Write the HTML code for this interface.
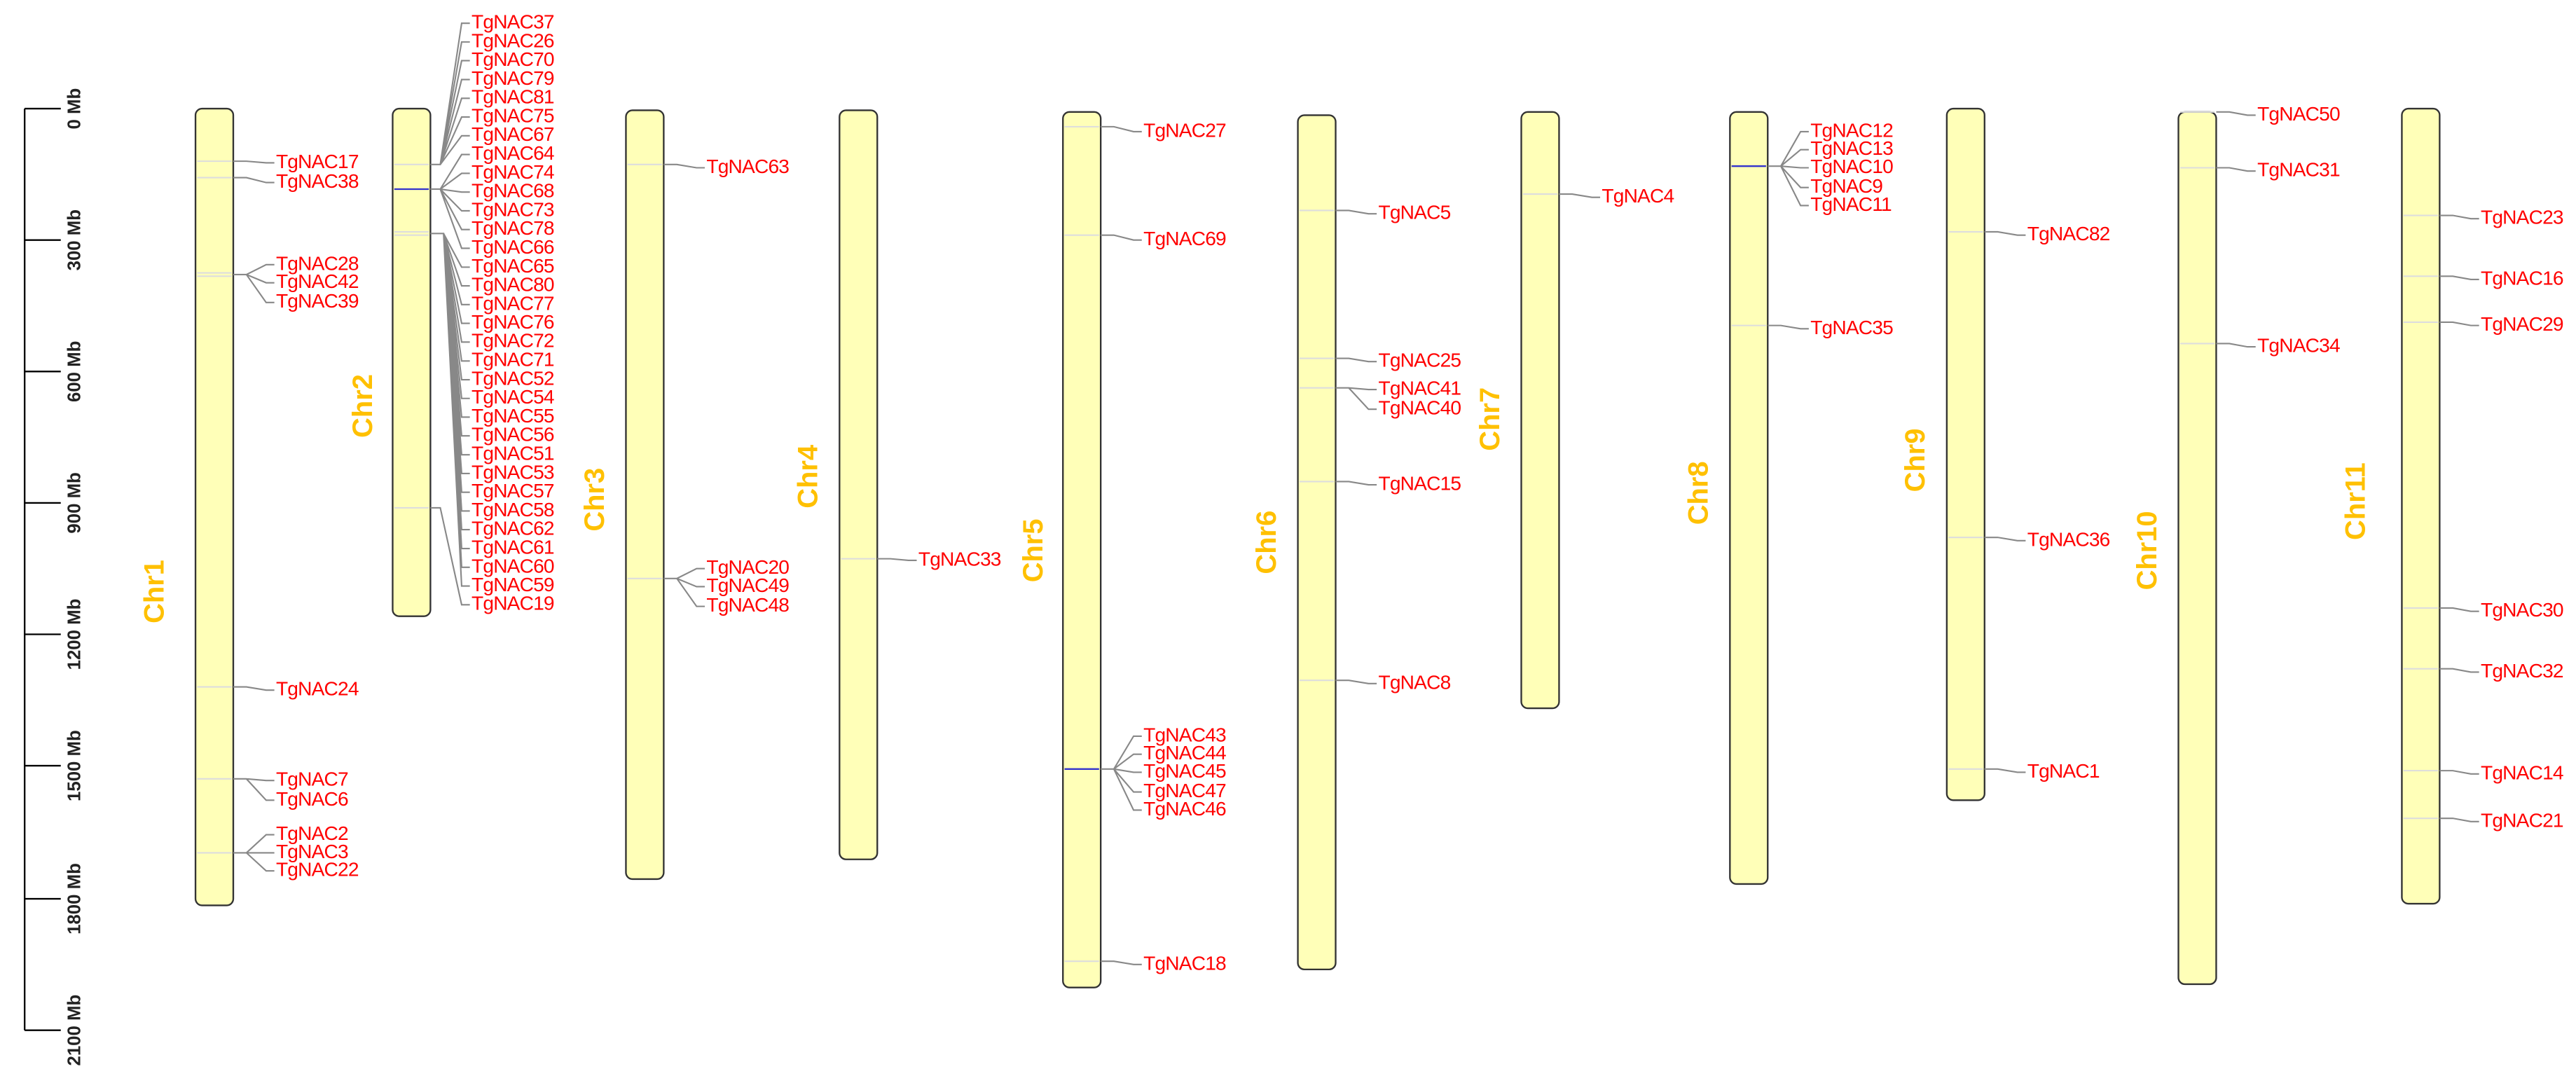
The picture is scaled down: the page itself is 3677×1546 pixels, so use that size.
<!DOCTYPE html>
<html><head><meta charset="utf-8"><style>
html,body{margin:0;padding:0;background:#fff;}
svg{display:block;}
.g{font-family:"Liberation Sans",Arial,sans-serif;font-size:12px;letter-spacing:-0.35px;fill:#ff0000;dominant-baseline:middle;}
.c{font-family:"Liberation Sans",Arial,sans-serif;font-size:17px;font-weight:bold;fill:#ffc000;text-anchor:middle;dominant-baseline:middle;}
.r{font-family:"Liberation Sans",Arial,sans-serif;font-size:11px;font-weight:bold;fill:#222;text-anchor:middle;dominant-baseline:middle;}
.ch{fill:#ffffb8;stroke:#333;stroke-width:1;}
.ln{fill:none;stroke:#888;stroke-width:0.9;}
.fl{stroke:#ddd;stroke-width:0.9;}
.bl{stroke:#3333cc;stroke-width:1;}
</style></head><body>
<svg width="3677" height="1546" viewBox="0 0 1568 659" xmlns="http://www.w3.org/2000/svg">
<g stroke="#000" stroke-width="1" fill="none">
<path d="M15,66 V627"/>
<path d="M15,66 H37 M15,146 H37 M15,226 H37 M15,306 H37 M15,386 H37 M15,466 H37 M15,547 H37 M15,627 H37"/>
</g>
<text class="r" transform="translate(46,66) rotate(-90)">0 Mb</text>
<text class="r" transform="translate(46,146) rotate(-90)">300 Mb</text>
<text class="r" transform="translate(46,226) rotate(-90)">600 Mb</text>
<text class="r" transform="translate(46,306) rotate(-90)">900 Mb</text>
<text class="r" transform="translate(46,386) rotate(-90)">1200 Mb</text>
<text class="r" transform="translate(46,466) rotate(-90)">1500 Mb</text>
<text class="r" transform="translate(46,547) rotate(-90)">1800 Mb</text>
<text class="r" transform="translate(46,627) rotate(-90)">2100 Mb</text>

<rect class="ch" x="119" y="66" width="23" height="485" rx="4"/>
<rect class="ch" x="239" y="66" width="23" height="309" rx="4"/>
<rect class="ch" x="381" y="67" width="23" height="468" rx="4"/>
<rect class="ch" x="511" y="67" width="23" height="456" rx="4"/>
<rect class="ch" x="647" y="68" width="23" height="533" rx="4"/>
<rect class="ch" x="790" y="70" width="23" height="520" rx="4"/>
<rect class="ch" x="926" y="68" width="23" height="363" rx="4"/>
<rect class="ch" x="1053" y="68" width="23" height="470" rx="4"/>
<rect class="ch" x="1185" y="66" width="23" height="421" rx="4"/>
<rect class="ch" x="1326" y="68" width="23" height="531" rx="4"/>
<rect class="ch" x="1462" y="66" width="23" height="484" rx="4"/>

<text class="c" transform="translate(95,360) rotate(-90)">Chr1</text>
<text class="c" transform="translate(222,247) rotate(-90)">Chr2</text>
<text class="c" transform="translate(363,304) rotate(-90)">Chr3</text>
<text class="c" transform="translate(493,290) rotate(-90)">Chr4</text>
<text class="c" transform="translate(630,335) rotate(-90)">Chr5</text>
<text class="c" transform="translate(772,330) rotate(-90)">Chr6</text>
<text class="c" transform="translate(908,255) rotate(-90)">Chr7</text>
<text class="c" transform="translate(1035,300) rotate(-90)">Chr8</text>
<text class="c" transform="translate(1167,280) rotate(-90)">Chr9</text>
<text class="c" transform="translate(1308,335) rotate(-90)">Chr10</text>
<text class="c" transform="translate(1435,305) rotate(-90)">Chr11</text>

<g class="fl">
<path d="M120,98H141M120,108H141M120,166H141M120,168H141M120,418H141M120,474H141M120,519H141"/>
<path d="M240,100H261M240,141H261M240,143H261M240,309H261"/>
<path d="M382,100H403M382,352H403M512,340H533"/>
<path d="M648,77H669M648,143H669M648,585H669"/>
<path d="M791,128H812M791,218H812M791,236H812M791,293H812M791,414H812"/>
<path d="M927,118H948M1054,198H1075"/>
<path d="M1186,141H1207M1186,327H1207M1186,468H1207"/>
<path d="M1327,68H1348M1327,102H1348M1327,209H1348"/>
<path d="M1463,131H1484M1463,168H1484M1463,196H1484M1463,370H1484M1463,407H1484M1463,469H1484M1463,498H1484"/>
</g>
<g class="bl"><path d="M240,115H261M648,468H669M1054,101H1075"/></g>

<g class="ln">
<path d="M142,98H150L162,99H167M142,108H150L162,111H167"/>
<path d="M142,167H150L162,161H167M142,167H150L162,172H167M142,167H150L162,184H167"/>
<path d="M142,418H150L162,420H167"/>
<path d="M142,474H150L162,475H167M142,474H150L162,487H167"/>
<path d="M142,519H150L162,508H167M142,519H150L162,519H167M142,519H150L162,530H167"/>
<path d="M262,100H268L281,14H286M262,100H268L281,25.4H286M262,100H268L281,36.8H286M262,100H268L281,48.3H286M262,100H268L281,59.7H286M262,100H268L281,71.1H286M262,100H268L281,82.5H286"/>
<path d="M262,115H268L281,93.9H286M262,115H268L281,105.4H286M262,115H268L281,116.8H286M262,115H268L281,128.2H286M262,115H268L281,139.6H286M262,115H268L281,151H286"/>
<path d="M262,142H270L281,162.5H286M262,142H270L281,173.9H286M262,142H270L281,185.3H286M262,142H270L281,196.7H286M262,142H270L281,208.1H286M262,142H270L281,219.6H286M262,142H270L281,231H286M262,142H270L281,242.4H286M262,142H270L281,253.8H286M262,142H270L281,265.2H286M262,142H270L281,276.7H286M262,142H270L281,288.1H286M262,142H270L281,299.5H286M262,142H270L281,310.9H286M262,142H270L281,322.3H286M262,142H270L281,333.8H286M262,142H270L281,345.2H286M262,142H270L281,356.6H286"/>
<path d="M262,309H268L281,368H286"/>
<path d="M404,100H412L424,102H429"/>
<path d="M404,352H412L424,346H429M404,352H412L424,357H429M404,352H412L424,369H429"/>
<path d="M534,340H542L553,341H558"/>
<path d="M670,77H678L690,80H695M670,143H678L690,146H695"/>
<path d="M670,468H678L690,448H695M670,468H678L690,459H695M670,468H678L690,470H695M670,468H678L690,482H695M670,468H678L690,493H695"/>
<path d="M670,585H678L690,587H695"/>
<path d="M813,128H821L833,130H838M813,218H821L833,220H838"/>
<path d="M813,236H821L833,237H838M813,236H821L833,249H838"/>
<path d="M813,293H821L833,295H838M813,414H821L833,416H838"/>
<path d="M949,118H957L969,120H974"/>
<path d="M1076,101H1084L1096,80H1101M1076,101H1084L1096,91H1101M1076,101H1084L1096,102H1101M1076,101H1084L1096,114H1101M1076,101H1084L1096,125H1101"/>
<path d="M1076,198H1084L1096,200H1101"/>
<path d="M1208,141H1216L1228,143H1233M1208,327H1216L1228,329H1233M1208,468H1216L1228,470H1233"/>
<path d="M1349,68H1357L1368,70H1373M1349,102H1357L1368,104H1373M1349,209H1357L1368,211H1373"/>
<path d="M1485,131H1493L1504,133H1509M1485,168H1493L1504,170H1509M1485,196H1493L1504,198H1509M1485,370H1493L1504,372H1509M1485,407H1493L1504,409H1509M1485,469H1493L1504,471H1509M1485,498H1493L1504,500H1509"/>
</g>

<g class="g">
<text x="168" y="99">TgNAC17</text><text x="168" y="111">TgNAC38</text>
<text x="168" y="161">TgNAC28</text><text x="168" y="172">TgNAC42</text><text x="168" y="184">TgNAC39</text>
<text x="168" y="420">TgNAC24</text>
<text x="168" y="475">TgNAC7</text><text x="168" y="487">TgNAC6</text>
<text x="168" y="508">TgNAC2</text><text x="168" y="519">TgNAC3</text><text x="168" y="530">TgNAC22</text>

<text x="287" y="14">TgNAC37</text><text x="287" y="25.4">TgNAC26</text><text x="287" y="36.8">TgNAC70</text><text x="287" y="48.3">TgNAC79</text>
<text x="287" y="59.7">TgNAC81</text><text x="287" y="71.1">TgNAC75</text><text x="287" y="82.5">TgNAC67</text><text x="287" y="93.9">TgNAC64</text>
<text x="287" y="105.4">TgNAC74</text><text x="287" y="116.8">TgNAC68</text><text x="287" y="128.2">TgNAC73</text><text x="287" y="139.6">TgNAC78</text>
<text x="287" y="151">TgNAC66</text><text x="287" y="162.5">TgNAC65</text><text x="287" y="173.9">TgNAC80</text><text x="287" y="185.3">TgNAC77</text>
<text x="287" y="196.7">TgNAC76</text><text x="287" y="208.1">TgNAC72</text><text x="287" y="219.6">TgNAC71</text><text x="287" y="231">TgNAC52</text>
<text x="287" y="242.4">TgNAC54</text><text x="287" y="253.8">TgNAC55</text><text x="287" y="265.2">TgNAC56</text><text x="287" y="276.7">TgNAC51</text>
<text x="287" y="288.1">TgNAC53</text><text x="287" y="299.5">TgNAC57</text><text x="287" y="310.9">TgNAC58</text><text x="287" y="322.3">TgNAC62</text>
<text x="287" y="333.8">TgNAC61</text><text x="287" y="345.2">TgNAC60</text><text x="287" y="356.6">TgNAC59</text><text x="287" y="368">TgNAC19</text>

<text x="430" y="102">TgNAC63</text>
<text x="430" y="346">TgNAC20</text><text x="430" y="357">TgNAC49</text><text x="430" y="369">TgNAC48</text>

<text x="559" y="341">TgNAC33</text>

<text x="696" y="80">TgNAC27</text><text x="696" y="146">TgNAC69</text>
<text x="696" y="448">TgNAC43</text><text x="696" y="459">TgNAC44</text><text x="696" y="470">TgNAC45</text><text x="696" y="482">TgNAC47</text><text x="696" y="493">TgNAC46</text>
<text x="696" y="587">TgNAC18</text>

<text x="839" y="130">TgNAC5</text><text x="839" y="220">TgNAC25</text><text x="839" y="237">TgNAC41</text><text x="839" y="249">TgNAC40</text>
<text x="839" y="295">TgNAC15</text><text x="839" y="416">TgNAC8</text>

<text x="975" y="120">TgNAC4</text>

<text x="1102" y="80">TgNAC12</text><text x="1102" y="91">TgNAC13</text><text x="1102" y="102">TgNAC10</text><text x="1102" y="114">TgNAC9</text><text x="1102" y="125">TgNAC11</text>
<text x="1102" y="200">TgNAC35</text>

<text x="1234" y="143">TgNAC82</text><text x="1234" y="329">TgNAC36</text><text x="1234" y="470">TgNAC1</text>

<text x="1374" y="70">TgNAC50</text><text x="1374" y="104">TgNAC31</text><text x="1374" y="211">TgNAC34</text>

<text x="1510" y="133">TgNAC23</text><text x="1510" y="170">TgNAC16</text><text x="1510" y="198">TgNAC29</text><text x="1510" y="372">TgNAC30</text>
<text x="1510" y="409">TgNAC32</text><text x="1510" y="471">TgNAC14</text><text x="1510" y="500">TgNAC21</text>
</g>
</svg>
</body></html>
